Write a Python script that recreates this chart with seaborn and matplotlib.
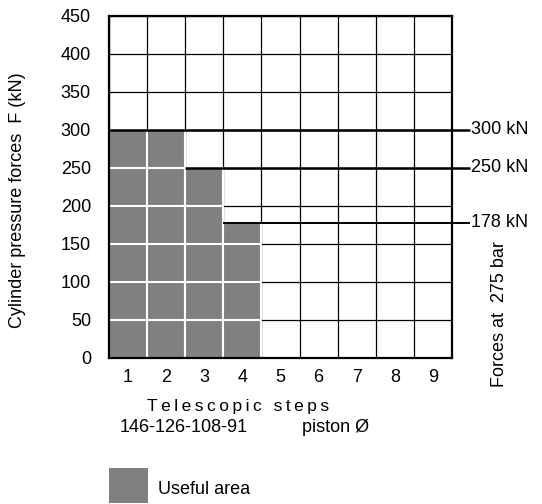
import numpy as np
import pandas as pd
import matplotlib
matplotlib.use("Agg")
import matplotlib.pyplot as plt
import seaborn as sns

# data
steps = ["1", "2", "3", "4", "5", "6", "7", "8", "9"]
forces = [300, 300, 250, 178, 0, 0, 0, 0, 0]
force_levels = [300, 250, 178]
level_start_step = [0, 2, 3]          # index of step where each force line starts
level_labels = ["300 kN", "250 kN", "178 kN"]
y_ticks = [0, 50, 100, 150, 200, 250, 300, 350, 400, 450]

df = pd.DataFrame({"step": steps, "force": forces})

sns.set_theme(style="white")
plt.rcParams["font.family"] = ["Liberation Sans", "DejaVu Sans"]

W, H = 542, 504
fig = plt.figure(figsize=(W / 100, H / 100), dpi=100)
ax = fig.add_axes([109 / W, 1 - 358 / H, 343 / W, 342 / H])

def fx(px):
    return px / W

def fy(py):
    return 1 - py / H

gray = "#808080"
fs = 13

# grid first (black)
ax.set_xlim(-0.5, len(steps) - 0.5)
ax.set_ylim(0, 450)
ax.set_yticks(y_ticks)
ax.set_xticks(np.arange(len(steps)))
ax.grid(False)
for yv in y_ticks[1:]:
    ax.axhline(yv, color="black", lw=0.9, zorder=0.5)
for xv in np.arange(len(steps) + 1) - 0.5:
    ax.axvline(xv, color="black", lw=0.9, zorder=0.5)

sns.barplot(data=df, x="step", y="force", color=gray, saturation=1, width=1.0,
            edgecolor="white", linewidth=1.5, ax=ax, zorder=2)

# white grid inside the useful area
for i, f in enumerate(forces):
    for yv in y_ticks[1:]:
        if yv < f:
            ax.hlines(yv, i - 0.5, i + 0.5, color="white", lw=1.5, zorder=3)

# force lines going out to the right
x_end = len(steps) - 0.5 + 0.47
for lvl, s, lab in zip(force_levels, level_start_step, level_labels):
    ax.hlines(lvl, s - 0.5, x_end, color="black", lw=1.8 if lvl != 178 else 1.4,
              zorder=4, clip_on=False)
    ax.text(x_end + 0.03, lvl, lab, ha="left", va="center", fontsize=fs,
            color="black", clip_on=False)

ax.set_xlim(-0.5, len(steps) - 0.5)
ax.set_ylim(0, 450)
ax.set_xticklabels(steps)
ax.set_xlabel("")
ax.set_ylabel("")
ax.tick_params(axis="both", which="both", length=0, labelsize=fs, colors="black")
ax.tick_params(axis="y", pad=13)
ax.tick_params(axis="x", pad=8)
for sp in ax.spines.values():
    sp.set_color("black")
    sp.set_linewidth(1.6)
    sp.set_zorder(5)

fig.text(fx(18), fy(200), "Cylinder pressure forces  F (kN)", rotation=90,
         ha="center", va="center", fontsize=fs, color="black")
fig.text(fx(500), fy(314), "Forces at  275 bar", rotation=90,
         ha="center", va="center", fontsize=fs, color="black")
fig.text(fx(238), fy(407), "\u2009".join("Telescopic steps"), ha="center",
         va="center", fontsize=12.5, color="black")
fig.text(fx(120), fy(427), "146-126-108-91", ha="left", va="center",
         fontsize=fs, color="black")
fig.text(fx(302), fy(427), "piston Ø", ha="left", va="center",
         fontsize=fs, color="black")

lax = fig.add_axes([fx(109), fy(503), 39 / W, 35 / H])
lax.add_patch(plt.Rectangle((0, 0), 1, 1, color=gray))
lax.set_xlim(0, 1)
lax.set_ylim(0, 1)
lax.axis("off")
fig.text(fx(158), fy(490), "Useful area", ha="left", va="center",
         fontsize=fs, color="black")

fig.savefig("out.png", dpi=100)
